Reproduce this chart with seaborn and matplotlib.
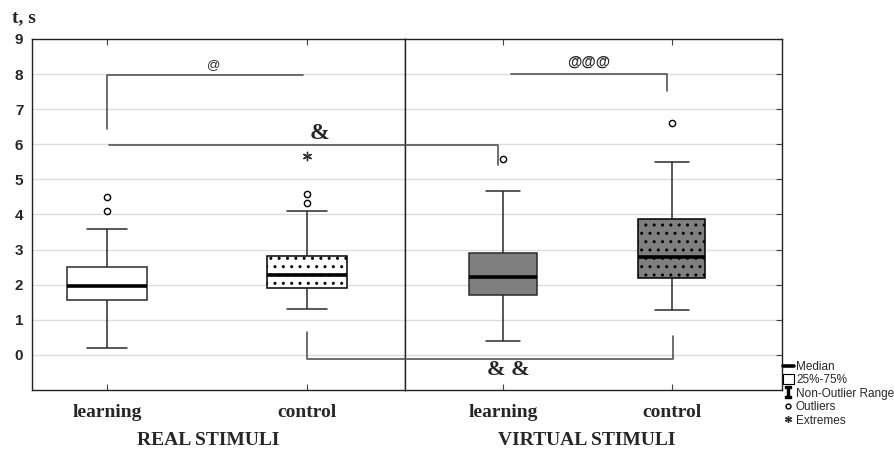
import matplotlib
matplotlib.use("Agg")
import matplotlib.pyplot as plt
import pandas as pd
import seaborn as sns
from matplotlib.lines import Line2D
from matplotlib.patches import Rectangle

# five-number summaries: whisker low, Q1, median, Q3, whisker high
GROUPS = ["learning", "control"]
real_learning = [0.20, 1.55, 1.95, 2.50, 3.60]
real_control = [1.31, 1.91, 2.28, 2.81, 4.10]
virtual_learning = [0.41, 1.71, 2.23, 2.90, 4.67]
virtual_control = [1.28, 2.18, 2.78, 3.88, 5.50]

real_outliers = {"learning": [4.11, 4.49], "control": [4.32, 4.57]}
real_extremes = {"learning": [], "control": [5.67]}
virtual_outliers = {"learning": [5.57], "control": [6.62]}
virtual_extremes = {"learning": [], "control": []}

Y_TICKS = list(range(0, 10))

sns.set_style("white")
plt.rcParams["font.family"] = ["Liberation Sans", "DejaVu Sans"]

fig = plt.figure(figsize=(8.94, 4.53), dpi=100)
ax_l = fig.add_axes([31.7 / 894, 1 - 390 / 453, (405.3 - 31.7) / 894, 351 / 453])
ax_r = fig.add_axes([405.3 / 894, 1 - 390 / 453, (782.3 - 405.3) / 894, 351 / 453], sharey=ax_l)

SERIF = ["Liberation Serif", "DejaVu Serif"]


def long_frame(learning, control):
    return pd.DataFrame({
        "group": ["learning"] * len(learning) + ["control"] * len(control),
        "t": learning + control,
    })


def draw_panel(ax, frame, colors, outliers, extremes, title):
    for y in Y_TICKS[:-1]:
        ax.axhline(y, color="#dcdcdc", lw=1.0, zorder=0)
    sns.boxplot(data=frame, x="group", y="t", hue="group", order=GROUPS,
                palette=colors, legend=False, width=0.4, whis=(0, 100),
                showfliers=False, linecolor="#2a2a2a", linewidth=1.1,
                medianprops={"color": "black", "linewidth": 2.6}, ax=ax,
                zorder=2)
    # control boxes carry the dot pattern
    for patch in ax.patches:
        ext = patch.get_path().get_extents()
        if ext.x0 > 0.5:
            patch.set_hatch("..")
            patch.set_edgecolor("black")
    out = pd.DataFrame([(g, v) for g in GROUPS for v in outliers[g]], columns=["group", "t"])
    if len(out):
        sns.stripplot(data=out, x="group", y="t", order=GROUPS, jitter=False,
                      color="white", edgecolor="black", linewidth=1.0, size=4.5,
                      ax=ax, zorder=4)
    ext_df = pd.DataFrame([(g, v) for g in GROUPS for v in extremes[g]], columns=["group", "t"])
    if len(ext_df):
        sns.stripplot(data=ext_df, x="group", y="t", order=GROUPS, jitter=False,
                      color="#333333", marker=(6, 2, 0), linewidth=1.0, size=6,
                      ax=ax, zorder=4)
    ax.set_ylim(-1, 9)
    ax.set_ylabel("")
    ax.set_xlabel(title, fontsize=14, fontweight="bold", family=SERIF)
    ax.tick_params(axis="x", which="both", direction="in", length=4, top=True,
                   bottom=True, pad=10, labelsize=14, color="#444444")
    for lbl in ax.get_xticklabels():
        lbl.set_fontfamily(SERIF)
        lbl.set_fontweight("bold")
    for sp in ax.spines.values():
        sp.set_color("#222222")
        sp.set_linewidth(1.0)


draw_panel(ax_l, long_frame(real_learning, real_control), ["white", "white"],
           real_outliers, real_extremes, "REAL STIMULI")
draw_panel(ax_r, long_frame(virtual_learning, virtual_control), ["#7f7f7f", "#7f7f7f"],
           virtual_outliers, virtual_extremes, "VIRTUAL STIMULI")

ax_l.set_xlim(-0.378, 1.49)
ax_r.set_xlim(-0.579, 1.656)
ax_l.xaxis.set_label_coords(0.472, -0.12)
ax_r.xaxis.set_label_coords(0.482, -0.12)

ax_l.set_yticks(Y_TICKS)
ax_l.set_yticklabels([str(v) for v in Y_TICKS], fontsize=11, fontweight="bold")
ax_l.tick_params(axis="y", length=0, pad=6)
ax_r.tick_params(axis="y", left=False, right=True, direction="in", length=4,
                 labelleft=False, color="#444444")

# significance brackets
bl = dict(color="#555555", lw=1.2, clip_on=False, zorder=3)
ax_l.plot([0, 0, 0.98], [6.45, 7.98, 7.98], **bl)
ax_l.text(0.53, 8.26, "@", ha="center", va="center", fontsize=9.5)
ax_l.plot([0.01, 1.49], [5.98, 5.98], **bl)
ax_r.plot([-0.579, -0.03, -0.03], [5.98, 5.98, 5.41], **bl)
ax_l.text(1.06, 6.32, "&", ha="center", va="center", fontsize=17,
          fontweight="bold", family=SERIF)
ax_r.plot([0.05, 0.974, 0.974], [8.0, 8.0, 7.53], **bl)
ax_r.text(0.51, 8.34, "@@@", ha="center", va="center", fontsize=10.5, fontweight="bold")
ax_l.plot([1.0, 1.0, 1.49], [0.64, -0.11, -0.11], **bl)
ax_r.plot([-0.579, 1.006, 1.006], [-0.11, -0.11, 0.53], **bl)
ax_r.text(0.03, -0.42, "& &", ha="center", va="center", fontsize=16,
          fontweight="bold", family=SERIF)

fig.text(12 / 894, 1 - 22 / 453, "t, s", fontsize=14, fontweight="bold",
         family=SERIF, va="baseline")

handles = [
    Line2D([], [], color="black", lw=2.6),
    Rectangle((0, 0), 1, 1, facecolor="white", edgecolor="black", lw=0.8),
    Line2D([], [], color="black", ls="none", marker="$\\mathtt{I}$", markersize=8),
    Line2D([], [], color="black", ls="none", marker="o", markerfacecolor="white",
           markersize=3.5, markeredgewidth=1.0),
    Line2D([], [], color="#333333", ls="none", marker=(6, 2, 0), markersize=5),
]
labels = ["Median", "25%-75%", "Non-Outlier Range", "Outliers", "Extremes"]
fig.legend(handles, labels, loc="upper left", bbox_to_anchor=(783 / 894, 1 - 361 / 453),
           frameon=False, fontsize=8.5, handlelength=0.9, handleheight=0.9,
           handletextpad=0.2, labelspacing=0.12, borderpad=0, borderaxespad=0)

fig.savefig("out.png", dpi=100)
